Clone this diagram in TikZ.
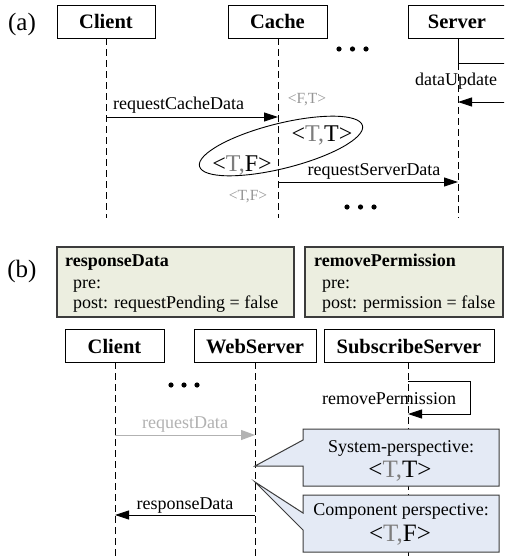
\documentclass[tikz,border=0pt]{standalone}
\usepackage{fontspec}
\setmainfont{Liberation Serif}
\usetikzlibrary{arrows.meta,shapes.geometric}
\definecolor{notefill}{RGB}{236,238,224}
\definecolor{calloutfill}{RGB}{228,234,245}
\definecolor{notedraw}{RGB}{60,60,60}
\definecolor{midgray}{RGB}{125,125,125}
\definecolor{smallgray}{RGB}{150,150,150}
\definecolor{msggray}{RGB}{178,178,178}
\tikzset{
  actor/.style={draw, fill=white, line width=0.9pt, minimum height=33pt, inner sep=0pt,
    font=\fontsize{20.5}{22}\selectfont\bfseries, text height=15pt, text depth=0pt},
  lifeline/.style={line width=0.8pt, dash pattern=on 7pt off 4pt},
  msg/.style={line width=0.9pt, -{Triangle[length=14pt,width=9pt]}},
  lbl/.style={font=\fontsize{18}{20}\selectfont, inner sep=0pt},
  boldlbl/.style={font=\fontsize{18}{20}\selectfont\bfseries, inner sep=0pt},
  small/.style={font=\fontsize{15.5}{17}\selectfont, inner sep=0pt, text=smallgray},
  bigstate/.style={font=\fontsize{24}{26}\selectfont, inner sep=0pt},
  callstate/.style={font=\fontsize{25}{27}\selectfont, inner sep=0pt},
  panel/.style={font=\fontsize{25}{27}\selectfont, inner sep=0pt},
  notebox/.style={draw=notedraw, fill=notefill, line width=1.1pt},
  callout/.style={draw=notedraw, fill=calloutfill, line width=1pt, line join=miter},
  dot/.style={fill=black}
}
\begin{document}
\begin{tikzpicture}[x=1pt,y=-1pt]
\clip (0,0) rectangle (504,559);
\fill[white] (0,0) rectangle (504,559);

% ---------- (a) ----------
\node[panel] (pa) at (22,24) {(a)};
\node[actor, minimum width=98pt] (aclient) at (106,21.5) {Client};
\node[actor, minimum width=99pt] (acache) at (277.5,21.5) {Cache};
\node[actor, minimum width=98pt] (aserver) at (457,21.5) {Server};

\coordinate (aclientEnd) at (106,218);
\coordinate (acacheTop) at (278,38);
\coordinate (acacheEnd) at (278,218);
\coordinate (aserverTop) at (458,38);
\coordinate (aserverMid) at (458,63);
\coordinate (aserverEnd) at (458,218);
\draw[lifeline] (aclient.south) -- (aclientEnd);
\draw[lifeline] (acacheTop) -- (acacheEnd);
\draw[line width=0.8pt] (aserverTop) -- (aserverMid);
\draw[lifeline] (aserverMid) -- (aserverEnd);

% self message out of view
\coordinate (aoutA) at (512,63);
\draw[line width=0.9pt] (aserverMid) -- (aoutA);
\node[lbl, anchor=base] (ldataupdate) at (456,86) {dataUpdate};
\coordinate (aoutB) at (512,102);
\coordinate (aserverB) at (458,102);
\draw[msg] (aoutB) -- (aserverB);

% dots
\fill[dot] (339,49) circle (2.6) (352.5,49) circle (2.6) (366,49) circle (2.6);
\fill[dot] (347,207) circle (2.6) (360.5,207) circle (2.6) (374,207) circle (2.6);

% requestCacheData
\coordinate (ac1) at (106,117);
\coordinate (ak1) at (278,117);
\draw[msg] (ac1) -- (ak1);
\node[lbl, anchor=base west] (lreqcache) at (113,110) {requestCacheData};

% requestServerData
\coordinate (ak2) at (278,182);
\coordinate (as2) at (458,182);
\draw[msg] (ak2) -- (as2);
\node[lbl, anchor=base] (lreqserver) at (374,175) {requestServerData};

% states
\node[small] (sFT) at (307,100) {<F,T>};
\node[small] (sTF) at (248,197) {<T,F>};
\node[bigstate, anchor=base] (bTT) at (322,142) {<\textcolor{midgray}{T,}T>};
\node[bigstate, anchor=base] (bTF) at (242,171) {<\textcolor{midgray}{T,}F>};
\node[draw, ellipse, line width=0.9pt, minimum width=168pt, minimum height=45pt, inner sep=0pt, rotate=14] (ell) at (281,146) {};

% ---------- (b) ----------
\node[panel] (pb) at (22,271) {(b)};

\draw[notebox] (57,247) rectangle (294,317);
\node[boldlbl, anchor=base west] (n1t) at (65,266) {responseData};
\node[lbl, anchor=base west] (n1a) at (73,288) {pre:};
\node[lbl, anchor=base west] (n1b) at (73,308) {post: requestPending = false};

\draw[notebox] (305,247) rectangle (503,317);
\node[boldlbl, anchor=base west] (n2t) at (314,266) {removePermission};
\node[lbl, anchor=base west] (n2a) at (322,288) {pre:};
\node[lbl, anchor=base west] (n2b) at (322,308) {post: permission = false};

\node[actor, minimum width=99pt] (bclient) at (114.5,345.5) {Client};
\node[actor, minimum width=122pt] (bweb) at (255,345.5) {WebServer};
\node[actor, minimum width=170pt] (bsub) at (409,345.5) {SubscribeServer};

\coordinate (bclientTop) at (115,362);
\coordinate (bclientEnd) at (115,562);
\coordinate (bwebTop) at (255,362);
\coordinate (bwebEnd) at (255,562);
\coordinate (bsubTop) at (408,362);
\coordinate (bsubEnd) at (408,562);
\draw[lifeline] (bclientTop) -- (bclientEnd);
\draw[lifeline] (bwebTop) -- (bwebEnd);
\draw[lifeline] (bsubTop) -- (bsubEnd);

\fill[dot] (171,385) circle (2.6) (184,385) circle (2.6) (197,385) circle (2.6);

% removePermission self message
\coordinate (bs1) at (408,381);
\coordinate (bs2) at (470,381);
\coordinate (bs3) at (470,414);
\coordinate (bs4) at (408,414);
\draw[msg] (bs1) -- (bs2) -- (bs3) -- (bs4);
\node[lbl, anchor=base] (lremove) at (389,404) {removePermission};

% requestData (gray)
\coordinate (bc1) at (115,435);
\coordinate (bw1) at (255,435);
\draw[msg, draw=msggray, -{Triangle[length=14pt,width=10pt,fill=msggray]}] (bc1) -- (bw1);
\node[lbl, anchor=base, text=msggray] (lreqdata) at (185,428) {requestData};

% responseData
\coordinate (bw2) at (255,515);
\coordinate (bc2) at (115,515);
\draw[msg] (bw2) -- (bc2);
\node[lbl, anchor=base] (lrespdata) at (185,509) {responseData};

% callouts
\coordinate (p1) at (255,466);
\coordinate (p2) at (255,482);
\draw[callout] (303,429) -- (499,429) -- (499,486) -- (303,486) -- (303,466) -- (p1) -- (303,440) -- cycle;
\draw[callout] (303,495) -- (499,495) -- (499,552) -- (303,552) -- (303,530) -- (p2) -- (303,513) -- cycle;
\node[lbl, anchor=base] (c1a) at (401,452) {System-perspective:};
\node[callstate, anchor=base] (c1b) at (400,477) {<\textcolor{midgray}{T,}T>};
\node[lbl, anchor=base] (c2a) at (401,515) {Component perspective:};
\node[callstate, anchor=base] (c2b) at (400,541) {<\textcolor{midgray}{T,}F>};
\end{tikzpicture}
\end{document}
